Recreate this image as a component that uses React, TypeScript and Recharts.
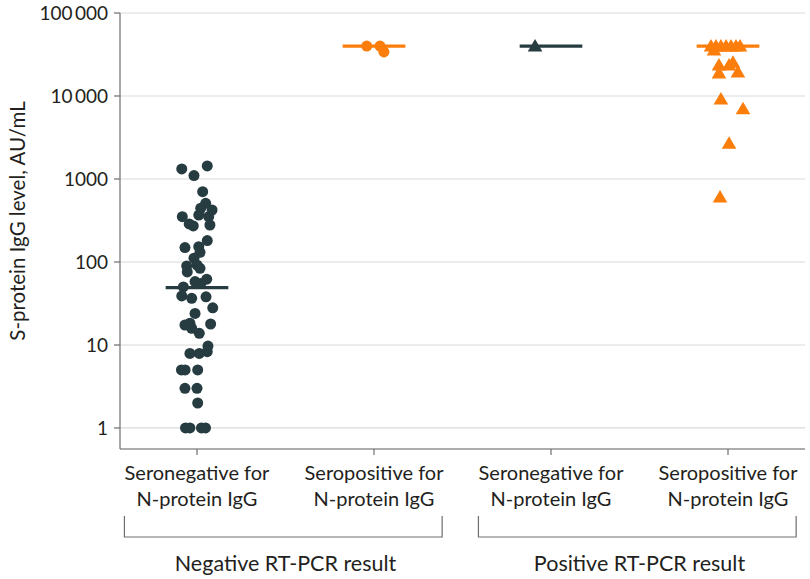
import {
  CartesianGrid,
  ReferenceLine,
  Scatter,
  ScatterChart,
  XAxis,
  YAxis,
} from "recharts";

// x categories (1..4) and their RT-PCR groups
const categoryLines = [
  ["Seronegative for", "N-protein IgG"],
  ["Seropositive for", "N-protein IgG"],
  ["Seronegative for", "N-protein IgG"],
  ["Seropositive for", "N-protein IgG"],
];
const groupLabels = ["Negative RT-PCR result", "Positive RT-PCR result"];
const yTicks = [1, 10, 100, 1000, 10000, 100000];

// RT-PCR negative, seronegative for N-protein IgG (AU/mL) + horizontal jitter
const negSeroNegValues = [
  1320, 1100, 1435, 703, 509, 444, 423, 368, 351, 279, 351, 287, 272, 181, 149,
  153, 131, 111, 92, 89.5, 84, 76, 58, 62, 55, 50, 39, 36.5, 38, 28, 24, 17.4,
  18.3, 15.9, 13.8, 17.9, 7.9, 7.9, 8.3, 9.7, 5, 5, 5, 3, 3, 2, 1, 1, 1, 1,
];
const negSeroNegJitter = [
  -0.086, -0.017, 0.058, 0.032, 0.049, 0.021, 0.085, 0.01, 0.066, 0.073, -0.083,
  -0.044, -0.021, 0.058, -0.068, 0.01, 0.017, -0.017, 0, -0.058, 0.017, -0.055,
  -0.011, 0.055, 0.021, -0.077, -0.086, -0.03, 0.051, 0.089, -0.011, -0.068,
  -0.04, -0.03, 0.013, 0.077, -0.04, 0.013, 0.058, 0.062, -0.088, -0.067, 0.004,
  -0.068, 0, 0.004, -0.065, -0.04, 0.025, 0.048,
];

// RT-PCR negative, seropositive for N-protein IgG
const negSeroPosValues = [40000, 40000, 34000];
const negSeroPosJitter = [-0.041, 0.034, 0.056];

// RT-PCR positive, seronegative for N-protein IgG
const posSeroNegValues = [40000];
const posSeroNegJitter = [-0.09];

// RT-PCR positive, seropositive for N-protein IgG
const posSeroPosValues = [
  40000, 40000, 40000, 40000, 40000, 40000, 40000, 35800, 23600, 23600, 25500,
  18900, 19500, 9200, 7000, 2700, 607,
];
const posSeroPosJitter = [
  -0.096, -0.068, -0.04, -0.011, 0.017, 0.045, 0.068, -0.079, -0.051, 0.006,
  0.028, -0.051, 0.056, -0.04, 0.085, 0.006, -0.045,
];

const medians = [49, 40000, 40000, 40000];

const DARK = "#263c41";
const ORANGE = "#fb7d0b";
const FONT = "Lato, sans-serif";
const TEXT = "#231f20";

const W = 810;
const H = 579;
const LEFT = 120;
const RIGHT = 5;
const X_MIN = 0.565;
const X_MAX = 4.435;
const STEP = (W - LEFT - RIGHT) / (X_MAX - X_MIN);

const toPoints = (cat: number, values: number[], jitter: number[]) =>
  values.map((v, i) => ({ x: cat + jitter[i], y: v }));

const Dot = (color: string) => (p: any) =>
  <circle cx={p.cx} cy={p.cy} r={5.5} fill={color} />;

const Tri = (color: string) => (p: any) =>
  (
    <polygon
      points={`${p.cx},${p.cy - 7} ${p.cx + 7.3},${p.cy + 5.5} ${p.cx - 7.3},${p.cy + 5.5}`}
      fill={color}
    />
  );

function CategoryTick(props: any) {
  const { x, y, payload } = props;
  const idx = payload.value - 1;
  const lines = categoryLines[idx] || [];
  const out = [
    <text
      key="t"
      x={x}
      y={y + 21}
      textAnchor="middle"
      fontFamily={FONT}
      fontSize={20}
      fill={TEXT}
    >
      {lines.map((l, i) => (
        <tspan key={i} x={x} dy={i === 0 ? 0 : 26}>
          {l}
        </tspan>
      ))}
    </text>,
  ];
  if (idx % 2 === 0) {
    const x0 = x - 0.41 * STEP;
    const x1 = x + STEP + 0.385 * STEP;
    const top = y + 57;
    const bot = y + 78;
    out.push(
      <path
        key="b"
        d={`M${x0},${top} L${x0},${bot} L${x1},${bot} L${x1},${top}`}
        fill="none"
        stroke="#6d6e71"
        strokeWidth={1.2}
      />,
      <text
        key="g"
        x={x + STEP / 2}
        y={y + 112}
        textAnchor="middle"
        fontFamily={FONT}
        fontSize={21.5}
        fill={TEXT}
      >
        {groupLabels[idx / 2]}
      </text>,
    );
  }
  return <g>{out}</g>;
}

const formatY = (v: number) =>
  v >= 10000 ? String(v).replace(/(\d)(?=(\d{3})+$)/g, "$1\u2009") : String(v);

function YLabel(props: any) {
  const vb = props.viewBox || {};
  const cx = 17;
  const cy = vb.y + vb.height / 2 - 10;
  return (
    <text
      x={cx}
      y={cy}
      transform={`rotate(-90, ${cx}, ${cy})`}
      textAnchor="middle"
      dominantBaseline="central"
      fontFamily={FONT}
      fontSize={20.5}
      fill={TEXT}
    >
      S-protein IgG level, AU/mL
    </text>
  );
}

export default function App() {
  const series = [
    { data: toPoints(1, negSeroNegValues, negSeroNegJitter), shape: Dot(DARK) },
    { data: toPoints(2, negSeroPosValues, negSeroPosJitter), shape: Dot(ORANGE) },
    { data: toPoints(3, posSeroNegValues, posSeroNegJitter), shape: Tri(DARK) },
    { data: toPoints(4, posSeroPosValues, posSeroPosJitter), shape: Tri(ORANGE) },
  ];
  const medianColors = [DARK, ORANGE, DARK, ORANGE];

  return (
    <div style={{ width: W, height: H, background: "#fff" }}>
      <style>{"body{margin:0}"}</style>
      <ScatterChart
        width={W}
        height={H}
        margin={{ top: 13, right: RIGHT, bottom: 0, left: 0 }}
      >
        <CartesianGrid vertical={false} stroke="#d9d9d9" strokeWidth={1.2} />
        <XAxis
          type="number"
          dataKey="x"
          domain={[X_MIN, X_MAX]}
          ticks={[1, 2, 3, 4]}
          allowDataOverflow
          height={130}
          tickSize={6}
          tickMargin={4}
          stroke="#6d6e71"
          strokeWidth={1.2}
          tick={<CategoryTick />}
        />
        <YAxis
          type="number"
          dataKey="y"
          scale="log"
          domain={[0.558, 100000]}
          ticks={yTicks}
          allowDataOverflow
          width={LEFT}
          tickSize={6}
          tickMargin={6}
          stroke="#6d6e71"
          strokeWidth={1.2}
          tickFormatter={formatY}
          tick={{ fontFamily: FONT, fontSize: 19, fill: TEXT }}
          label={<YLabel />}
        />
        {series.map((s, i) => (
          <Scatter
            key={i}
            data={s.data}
            shape={s.shape}
            isAnimationActive={false}
          />
        ))}
        {medians.map((m, i) => (
          <ReferenceLine
            key={i}
            segment={[
              { x: i + 1 - 0.177, y: m },
              { x: i + 1 + 0.177, y: m },
            ]}
            stroke={medianColors[i]}
            strokeWidth={3.2}
            ifOverflow="visible"
          />
        ))}
      </ScatterChart>
    </div>
  );
}
